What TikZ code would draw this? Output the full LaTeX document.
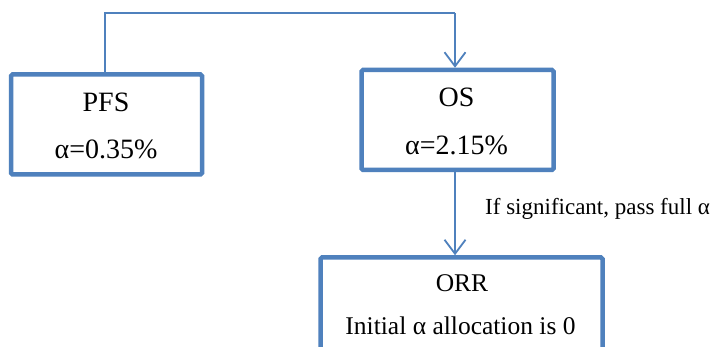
\documentclass[tikz,border=0pt]{standalone}
\usepackage{fontspec}
\setmainfont{Liberation Serif}
\usetikzlibrary{arrows.meta}
\definecolor{boxblue}{HTML}{4F81BD}
\begin{document}
\begin{tikzpicture}[x=1pt,y=-1pt,
  box/.style={draw=boxblue, line width=4.5pt, rounded corners=1.5pt, rectangle, inner sep=0pt, fill=white},
  conn/.style={draw=boxblue, line width=1.8pt},
  tip/.style={-{Straight Barb[length=14pt,width=21pt,line width=1.8pt]}},
  big/.style={font=\fontsize{28}{32}\selectfont, anchor=base, inner sep=0pt},
  mid/.style={font=\fontsize{25.5}{30}\selectfont, anchor=base, inner sep=0pt},
  lab/.style={font=\fontsize{23}{27}\selectfont, anchor=base west, inner sep=0pt}]
\useasboundingbox (0,0) rectangle (713,347);
\clip (0,0) rectangle (713,347);
\fill[white] (0,0) rectangle (713,347);
% boxes
\node[box, minimum width=191pt, minimum height=100pt] (pfs) at (106.5,124.5) {};
\node[box, minimum width=192pt, minimum height=100pt] (os) at (457.5,120) {};
\node[box, minimum width=282pt, minimum height=100pt] (orr) at (461.5,307.5) {};
% texts
\node[big] (pfsA) at (106,112) {PFS};
\node[big] (pfsB) at (106,159) {α=0.35\%};
\node[big] (osA) at (456.5,107) {OS};
\node[big] (osB) at (456.5,155) {α=2.15\%};
\node[mid] (orrA) at (462,292) {ORR};
\node[mid] (orrB) at (460.5,335) {Initial α allocation is 0};
% connectors
\coordinate (top) at (0,13);
\coordinate (pfsout) at (105,0);
\coordinate (osin) at (455,0);
\draw[conn] (pfsout |- pfs.north) -- (pfsout |- top) -- (osin |- top);
\draw[conn, tip] (osin |- top) -- (osin |- os.north);
\draw[conn, tip] (osin |- os.south) -- (osin |- orr.north);
\node[lab] (sig) at (485,215) {If significant, pass full α};
\end{tikzpicture}
\end{document}
